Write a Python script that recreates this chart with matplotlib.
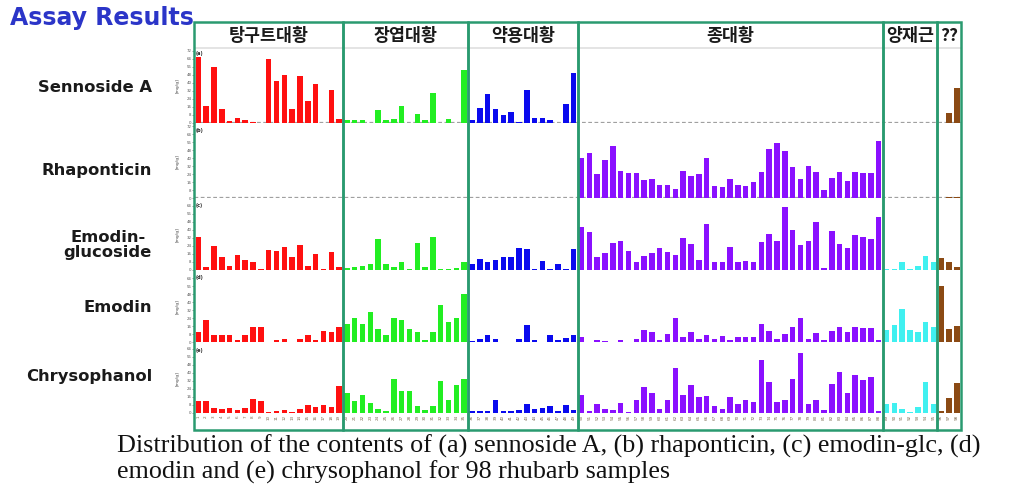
import matplotlib
matplotlib.use("Agg")
import matplotlib.pyplot as plt
from matplotlib.patches import Rectangle
import numpy as np

W, H = 1023, 493

# ---------------- data ----------------
group_names = ["탕구트대황", "장엽대황", "약용대황", "종대황", "양재근", "??"]
group_sizes = [19, 16, 14, 39, 7, 3]
group_colors = ["#ff1010", "#22ee22", "#0a0aee", "#8a10ff", "#40f0f0", "#8b4a14"]

row_labels = ["Sennoside A", "Rhaponticin", "Emodin-\nglucoside", "Emodin", "Chrysophanol"]
panel_tags = ["(a)", "(b)", "(c)", "(d)", "(e)"]

sennoside_a = ([66, 17, 56, 14, 2, 5, 3, 1, 0, 64, 42, 48, 14, 47, 22, 39, 0, 33, 4]
               + [3, 3, 3, 0, 13, 3, 4, 17, 0, 9, 3, 30, 0, 4, 0, 53]
               + [3, 15, 29, 14, 8, 11, 1, 33, 5, 5, 3, 0, 19, 50]
               + [0] * 39
               + [0] * 7
               + [0, 10, 35])
rhaponticin = ([0] * 19 + [0] * 16 + [0] * 14
               + [40, 45, 24, 38, 52, 27, 25, 25, 18, 19, 13, 13, 9, 27, 22, 24, 40, 12, 11, 19,
                  13, 12, 16, 26, 49, 55, 47, 31, 19, 32, 26, 8, 20, 26, 17, 26, 25, 25, 57]
               + [0] * 7
               + [0, 1, 1])
emodin_glc = ([33, 3, 24, 13, 4, 15, 10, 8, 1, 20, 19, 23, 13, 25, 4, 16, 1, 18, 3]
              + [2, 3, 4, 6, 31, 6, 3, 8, 1, 27, 3, 33, 1, 1, 2, 8]
              + [6, 11, 8, 10, 13, 13, 22, 21, 1, 9, 1, 6, 1, 21]
              + [43, 38, 13, 17, 27, 29, 19, 8, 14, 17, 22, 18, 15, 32, 26, 10, 46, 8, 8, 23,
                 8, 9, 8, 28, 36, 29, 63, 40, 25, 29, 48, 2, 39, 26, 22, 35, 33, 31, 53]
              + [1, 1, 8, 1, 4, 14, 8]
              + [12, 8, 3])
emodin = ([10, 22, 7, 7, 7, 2, 7, 15, 15, 0, 2, 3, 0, 3, 7, 2, 11, 10, 15]
          + [18, 24, 18, 30, 13, 7, 24, 22, 13, 10, 2, 10, 37, 20, 24, 48]
          + [1, 3, 7, 3, 0, 0, 3, 17, 2, 0, 7, 2, 4, 7]
          + [5, 0, 2, 1, 0, 2, 0, 3, 12, 10, 2, 8, 24, 5, 10, 3, 7, 3, 6, 2,
             5, 5, 5, 18, 11, 3, 8, 15, 24, 3, 9, 2, 11, 15, 10, 15, 14, 14, 2]
          + [12, 17, 33, 12, 10, 20, 15]
          + [56, 13, 16])
chrysophanol = ([12, 12, 5, 4, 5, 3, 5, 14, 12, 1, 2, 3, 1, 4, 8, 6, 8, 6, 27]
                + [20, 12, 18, 10, 4, 2, 34, 22, 22, 7, 3, 7, 32, 13, 28, 34]
                + [2, 2, 2, 13, 2, 2, 3, 9, 4, 5, 7, 2, 8, 3]
                + [18, 2, 9, 4, 3, 10, 1, 13, 26, 20, 4, 13, 45, 18, 28, 16, 17, 7, 4, 16,
                   9, 13, 11, 53, 31, 11, 13, 34, 60, 9, 13, 3, 29, 41, 20, 38, 33, 36, 2]
                + [9, 10, 4, 1, 6, 31, 9]
                + [2, 15, 30])
sample_labels = [str(i) for i in range(1, 99)]

series = [sennoside_a, rhaponticin, emodin_glc, emodin, chrysophanol]

# ---------------- layout helpers ----------------
def rect(x0, y0, x1, y1):
    return [x0 / W, 1 - y1 / H, (x1 - x0) / W, (y1 - y0) / H]

XL, XR = 194.4, 960.8
panel_y = [(48, 123), (125, 198), (200, 269.5), (272, 342), (345, 413)]
frame_col = "#2a9a70"

fig = plt.figure(figsize=(W / 100, H / 100), dpi=100)
fig.patch.set_facecolor("white")

colors = []
for c, n in zip(group_colors, group_sizes):
    colors += [c] * n
x = np.arange(sum(group_sizes))

for k, (vals, (y0, y1)) in enumerate(zip(series, panel_y)):
    ax = fig.add_axes(rect(XL, y0, XR, y1))
    ax.bar(x, vals, width=0.7, color=colors, linewidth=0)
    ax.set_xlim(-0.5, 97.5)
    ax.set_ylim(0, y1 - y0)
    for s in ax.spines.values():
        s.set_visible(False)
    if k < 2:
        ax.axhline(0.6, color="#a0a0a0", lw=0.9, ls=(0, (3, 2)), zorder=0)
    ax.tick_params(axis="y", length=1.2, width=0.4, labelsize=2.8, pad=0.8,
                   colors="#555555")
    ax.set_yticks(np.arange(0, y1 - y0, 8))
    ax.set_ylabel("[mg/g]", fontsize=3.2, labelpad=5, color="#444444")
    ax.text(-0.3, y1 - y0 - 3, panel_tags[k], fontsize=3.5, va="top", ha="left",
            fontweight="bold", color="#222222")
    if k == 4:
        ax.set_xticks(x)
        ax.set_xticklabels(sample_labels, rotation=90, fontsize=3, color="#7a6a50")
        ax.tick_params(axis="x", length=0, pad=1.5)
    else:
        ax.set_xticks([])

# header light line
hl = fig.add_axes(rect(XL, 47, XR, 49))
hl.axhline(0.5, color="#e4e4e4", lw=1.5)
hl.set_xlim(0, 1)
hl.axis("off")

# frames
fr = fig.add_axes(rect(XL, 22, XR, 430))
fr.set_xlim(-0.5, 97.5)
fr.set_ylim(0, 1)
fr.axis("off")
start = 0
for name, n in zip(group_names, group_sizes):
    fr.add_patch(Rectangle((start - 0.5, 0), n, 1, fill=False, edgecolor=frame_col,
                           lw=1.8, clip_on=False, zorder=5))
    fr.text(start - 0.5 + n / 2, (430 - 36) / (430 - 22), name, ha="center", va="center",
            fontsize=12.5, fontweight="bold", family=["Noto Sans CJK KR", "DejaVu Sans"],
            color="#1a1a1a")
    start += n

# row labels
row_y = [88, 171, 245, 308, 377]
for lab, yy in zip(row_labels, row_y):
    fig.text(152 / W, 1 - yy / H, lab, ha="right", va="center", fontsize=11.8,
             fontweight="bold", color="#1a1a1a", linespacing=1.0,
             multialignment="center")

# title
fig.text(10 / W, 1 - 18 / H, "Assay Results", ha="left", va="center", fontsize=17,
         fontweight="bold", color="#2b35c8")

# caption
fig.text(117 / W, 1 - 446 / H,
         "Distribution of the contents of (a) sennoside A, (b) rhaponticin, (c) emodin-glc, (d)",
         ha="left", va="center", fontsize=18.8, family="Liberation Serif", color="#111111")
fig.text(117 / W, 1 - 472 / H,
         "emodin and (e) chrysophanol for 98 rhubarb samples",
         ha="left", va="center", fontsize=18.8, family="Liberation Serif", color="#111111")

fig.savefig("out.png", dpi=100)
